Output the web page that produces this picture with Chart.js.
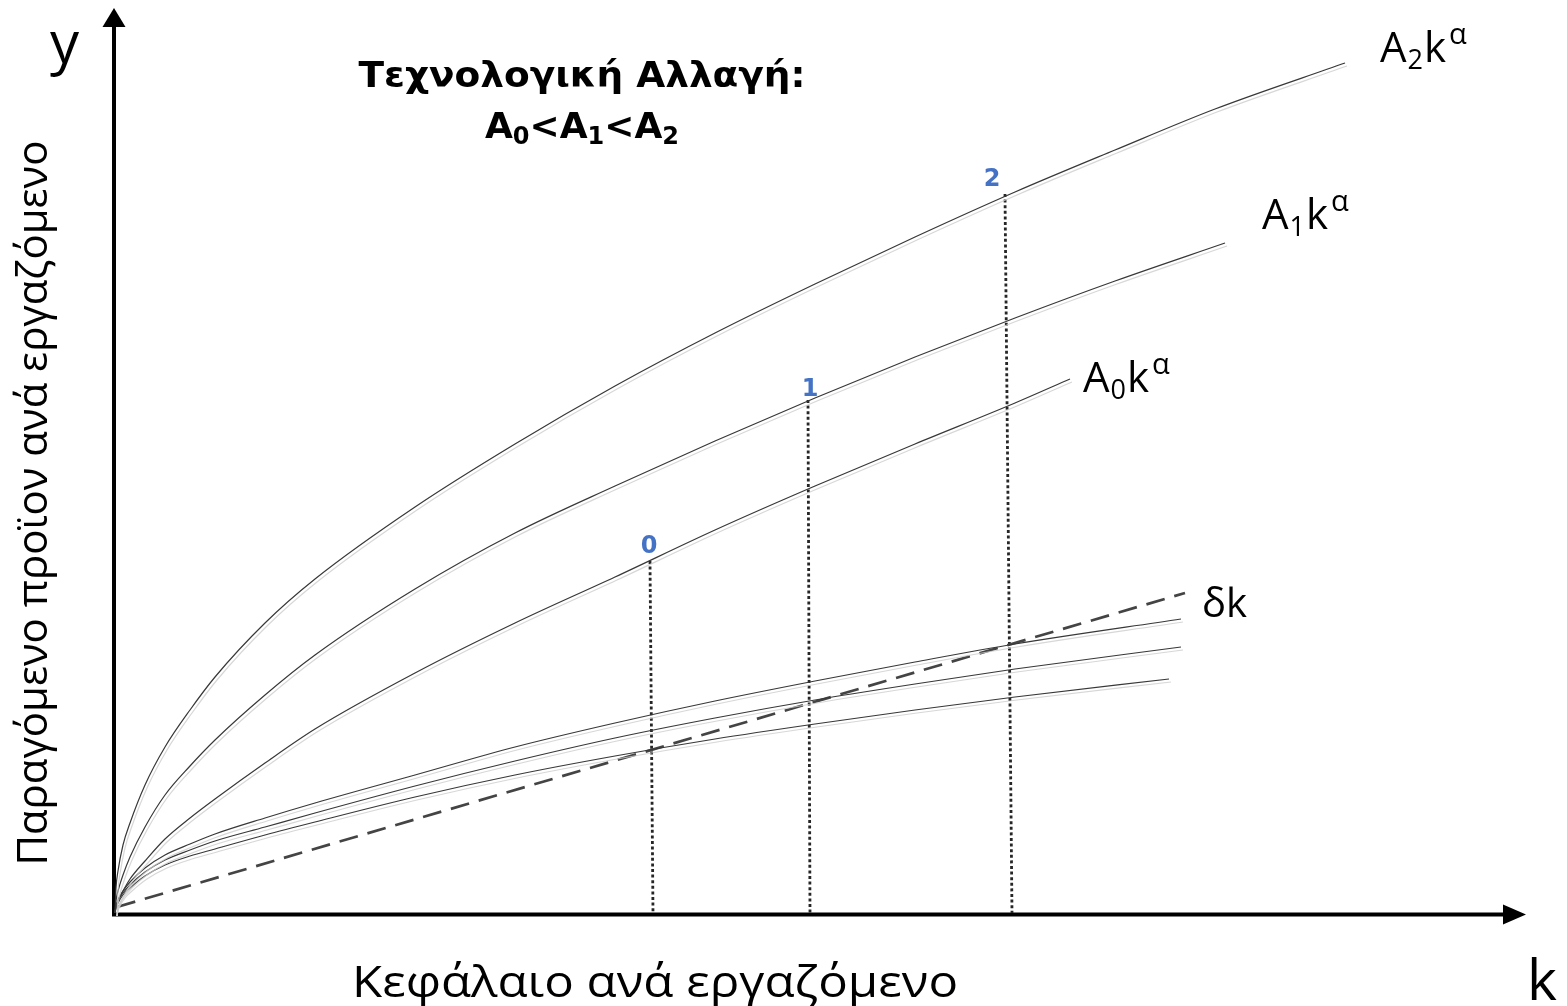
<!DOCTYPE html>
<html lang="el">
<head>
<meta charset="utf-8">
<title>Τεχνολογική Αλλαγή</title>
<script src="https://cdn.jsdelivr.net/npm/chart.js@4.4.1/dist/chart.umd.min.js"></script>
<style>
  html, body { margin: 0; padding: 0; background: #fff; }
  #wrap { width: 1567px; height: 1006px; position: relative; }
  canvas { display: block; }
</style>
</head>
<body>
<div id="wrap"><canvas id="c" width="1567" height="1006"></canvas></div>
<script>
// ---- Production functions y = A k^α for three technology levels ----
const kA2 = [0, 0.01, 0.03, 0.08, 0.15, 0.3, 0.5, 0.75, 1.0, 1.5, 2.0, 3.0, 4.0, 5.0, 6.0, 7.0, 8.0, 9.0, 10.0, 11.0, 12.3];
const yA2 = [0, 0.25, 0.42, 0.68, 0.90, 1.28, 1.66, 2.03, 2.36, 2.90, 3.34, 4.06, 4.69, 5.27, 5.80, 6.29, 6.76, 7.21, 7.63, 8.04, 8.50];

const kA1 = [0, 0.01, 0.03, 0.08, 0.15, 0.3, 0.5, 0.75, 1.0, 1.5, 2.0, 3.0, 4.0, 5.0, 6.0, 7.0, 8.0, 9.0, 10.0, 11.1];
const yA1 = [0, 0.12, 0.22, 0.38, 0.56, 0.86, 1.18, 1.47, 1.73, 2.18, 2.58, 3.24, 3.80, 4.27, 4.72, 5.15, 5.56, 5.95, 6.32, 6.70];

const kA0 = [0, 0.01, 0.03, 0.08, 0.15, 0.3, 0.5, 0.75, 1.0, 1.5, 2.0, 3.0, 4.0, 5.0, 6.0, 7.0, 8.0, 9.0, 9.55];
const yA0 = [0, 0.06, 0.12, 0.22, 0.34, 0.52, 0.74, 0.95, 1.14, 1.50, 1.84, 2.40, 2.90, 3.36, 3.83, 4.27, 4.69, 5.10, 5.34];

// ---- Savings curves s·A k^α (one per technology level) ----
const kS2 = [0, 0.01, 0.03, 0.08, 0.15, 0.3, 0.5, 0.75, 1.0, 1.5, 2.0, 3.0, 4.0, 5.0, 6.0, 7.0, 8.0, 9.0, 10.66];
const yS2 = [0, 0.07, 0.13, 0.22, 0.31, 0.45, 0.58, 0.69, 0.79, 0.95, 1.10, 1.38, 1.66, 1.90, 2.12, 2.32, 2.51, 2.69, 2.94];

const kS1 = [0, 0.01, 0.03, 0.08, 0.15, 0.3, 0.5, 0.75, 1.0, 1.5, 2.0, 3.0, 4.0, 5.0, 6.0, 7.0, 8.0, 9.0, 10.66];
const yS1 = [0, 0.06, 0.12, 0.20, 0.28, 0.41, 0.53, 0.63, 0.72, 0.86, 1.00, 1.27, 1.52, 1.75, 1.95, 2.13, 2.29, 2.44, 2.66];

const kS0 = [0, 0.01, 0.03, 0.08, 0.15, 0.3, 0.5, 0.75, 1.0, 1.5, 2.0, 3.0, 4.0, 5.0, 6.0, 7.0, 8.0, 9.0, 10.54];
const yS0 = [0, 0.05, 0.10, 0.18, 0.25, 0.37, 0.48, 0.57, 0.64, 0.78, 0.91, 1.16, 1.38, 1.57, 1.74, 1.89, 2.03, 2.16, 2.34];

// ---- Depreciation line δk ----
const kDelta = [0.02, 10.70];
const yDelta = [0.06, 3.20];

// ---- Steady states 0, 1, 2: capital and output levels ----
const steadyNames = ['0', '1', '2'];
const steadyK = [5.35, 6.93, 8.90];
const steadyKBase = [5.38, 6.95, 8.97];
const steadyY = [3.52, 5.13, 7.19];

// ---- Texts ----
const titleLine1 = 'Τεχνολογική Αλλαγή:';
const xTitle = 'Κεφάλαιο ανά εργαζόμενο';
const yTitle = 'Παραγόμενο προϊον ανά εργαζόμενο';
const xAxisLetter = 'k';
const yAxisLetter = 'y';

const zip = (ks, ys) => ks.map((k, i) => ({ x: k, y: ys[i] }));

const CURVE = '#383838';
const GHOST = 'rgba(205,205,205,0.8)';

function curveDataset(id, ks, ys) {
  return {
    id, data: zip(ks, ys), borderColor: CURVE, borderWidth: 1.2,
    cubicInterpolationMode: 'monotone', pointRadius: 0, fill: false,
    ghost: true, clip: false
  };
}

const datasets = [
  curveDataset('A2', kA2, yA2),
  curveDataset('A1', kA1, yA1),
  curveDataset('A0', kA0, yA0),
  curveDataset('S2', kS2, yS2),
  curveDataset('S1', kS1, yS1),
  curveDataset('S0', kS0, yS0),
  {
    id: 'delta', data: zip(kDelta, yDelta), borderColor: '#444', borderWidth: 2.7,
    borderDash: [19, 10], pointRadius: 0, fill: false, clip: false
  }
];
steadyK.forEach((k, i) => {
  datasets.push({
    id: 'ss' + i,
    data: [{ x: k, y: steadyY[i] }, { x: steadyKBase[i], y: 0 }],
    borderColor: '#262626', borderWidth: 2.8, borderDash: [3, 2.6],
    pointRadius: 0, fill: false, clip: false
  });
});

// Axes with arrowheads, drawn under the curves
const axesPlugin = {
  id: 'axesArrows',
  beforeDatasetsDraw(chart) {
    const { ctx, chartArea: a, scales: { x, y } } = chart;
    const x0 = x.getPixelForValue(0) - 1;
    const y0 = y.getPixelForValue(0) + 1.5;
    ctx.save();
    ctx.strokeStyle = '#000';
    ctx.fillStyle = '#000';
    ctx.lineWidth = 4;
    ctx.lineCap = 'butt';
    ctx.beginPath();
    ctx.moveTo(x0, y0 + 2);
    ctx.lineTo(x0, a.top + 16);
    ctx.moveTo(x0 - 2, y0);
    ctx.lineTo(a.right - 14, y0);
    ctx.stroke();
    ctx.beginPath();
    ctx.moveTo(x0, a.top - 2);
    ctx.lineTo(x0 - 11.5, a.top + 17);
    ctx.lineTo(x0 + 11.5, a.top + 17);
    ctx.closePath();
    ctx.fill();
    ctx.beginPath();
    ctx.moveTo(a.right + 1, y0);
    ctx.lineTo(a.right - 22, y0 - 10);
    ctx.lineTo(a.right - 22, y0 + 10);
    ctx.closePath();
    ctx.fill();
    ctx.restore();
  }
};

// Light offset copy under each curve
const ghostPlugin = {
  id: 'ghostLines',
  beforeDatasetDraw(chart, args) {
    const ds = chart.data.datasets[args.index];
    if (!ds.ghost) return;
    const ctx = chart.ctx;
    ctx.save();
    ctx.shadowColor = GHOST;
    ctx.shadowOffsetX = 2;
    ctx.shadowOffsetY = 3;
    ctx.shadowBlur = 0;
  },
  afterDatasetDraw(chart, args) {
    const ds = chart.data.datasets[args.index];
    if (!ds.ghost) return;
    chart.ctx.restore();
  }
};

function lastPixel(chart, id) {
  const ds = chart.data.datasets.find(d => d.id === id);
  const p = ds.data[ds.data.length - 1];
  return { x: chart.scales.x.getPixelForValue(p.x), y: chart.scales.y.getPixelForValue(p.y) };
}

// Text pieces: [text, size, baselineShift, gapAfter]
function drawPieces(ctx, x, y, pieces, family, weight) {
  let cx = x;
  pieces.forEach(([t, size, dy, gap]) => {
    ctx.font = `${weight} ${size}px ${family}`;
    ctx.fillText(t, cx, y + dy);
    cx += ctx.measureText(t).width + (gap || 0);
  });
  return cx - x;
}
function measurePieces(ctx, pieces, family, weight) {
  let w = 0;
  pieces.forEach(([t, size, dy, gap]) => {
    ctx.font = `${weight} ${size}px ${family}`;
    w += ctx.measureText(t).width + (gap || 0);
  });
  return w;
}
// Centred text stretched or squeezed to a given width
function fitText(ctx, text, cx, cy, width, rotate) {
  const w = ctx.measureText(text).width;
  ctx.save();
  ctx.translate(cx, cy);
  if (rotate) ctx.rotate(rotate);
  ctx.scale(width / w, 1);
  ctx.textAlign = 'center';
  ctx.fillText(text, 0, 0);
  ctx.restore();
}

const textPlugin = {
  id: 'texts',
  afterDraw(chart) {
    const { ctx } = chart;
    const LBL = '"Open Sans", "DejaVu Sans", sans-serif';
    const BOLD = '"DejaVu Sans", Verdana, sans-serif';
    ctx.save();
    ctx.fillStyle = '#000';
    ctx.textAlign = 'left';
    ctx.textBaseline = 'alphabetic';

    // Curve labels
    const curveLabel = (id, dx, dy, sub) => {
      const p = lastPixel(chart, id);
      drawPieces(ctx, p.x + dx, p.y + dy,
        [['A', 42, 0, 1], [sub, 27, 7, 1], ['k', 42, 0, 3], ['α', 29, -18, 0]], LBL, 400);
    };
    curveLabel('A2', 35, -1, '2');
    curveLabel('A1', 37, -14, '1');
    curveLabel('A0', 13, 13, '0');
    const pd = lastPixel(chart, 'delta');
    drawPieces(ctx, pd.x + 17, pd.y + 24, [['δk', 40, 0, 0]], LBL, 400);

    // Steady-state numbers
    const numOffsets = [[-1, -8], [2, -4], [-13, -8]];
    ctx.fillStyle = '#4472C4';
    ctx.textAlign = 'center';
    ctx.font = `700 24px ${BOLD}`;
    steadyNames.forEach((n, i) => {
      const px = chart.scales.x.getPixelForValue(steadyK[i]);
      const py = chart.scales.y.getPixelForValue(steadyY[i]);
      ctx.fillText(n, px + numOffsets[i][0], py + numOffsets[i][1]);
    });

    // Title
    ctx.fillStyle = '#000';
    ctx.font = `700 36px ${BOLD}`;
    fitText(ctx, titleLine1, 582, 87, 447);
    ctx.textAlign = 'left';
    const line2 = [['A', 36, 0], ['0', 24, 6], ['<', 36, 0], ['A', 36, 0], ['1', 24, 6], ['<', 36, 0], ['A', 36, 0], ['2', 24, 6]];
    const w2 = measurePieces(ctx, line2, BOLD, 700);
    drawPieces(ctx, 582 - w2 / 2, 138, line2, BOLD, 700);

    // Axis letters
    ctx.font = `400 58px ${LBL}`;
    ctx.fillText(yAxisLetter, 50, 63);
    ctx.font = `400 57px ${LBL}`;
    ctx.fillText(xAxisLetter, 1527, 1000);

    // Axis titles
    ctx.font = `400 44px ${LBL}`;
    fitText(ctx, xTitle, 655, 997, 606);
    ctx.font = `400 42px ${LBL}`;
    fitText(ctx, yTitle, 47, 503, 725, -Math.PI / 2);

    ctx.restore();
  }
};

new Chart(document.getElementById('c'), {
  type: 'line',
  data: { datasets },
  options: {
    responsive: false,
    animation: false,
    devicePixelRatio: 1,
    layout: { padding: { left: 115, right: 42, top: 10, bottom: 93 } },
    scales: {
      x: { type: 'linear', min: 0, max: 14.1, display: false },
      y: { type: 'linear', min: 0, max: 9.03, display: false }
    },
    plugins: { legend: { display: false }, tooltip: { enabled: false } },
    elements: { point: { radius: 0 } }
  },
  plugins: [axesPlugin, ghostPlugin, textPlugin]
});
</script>
</body>
</html>
